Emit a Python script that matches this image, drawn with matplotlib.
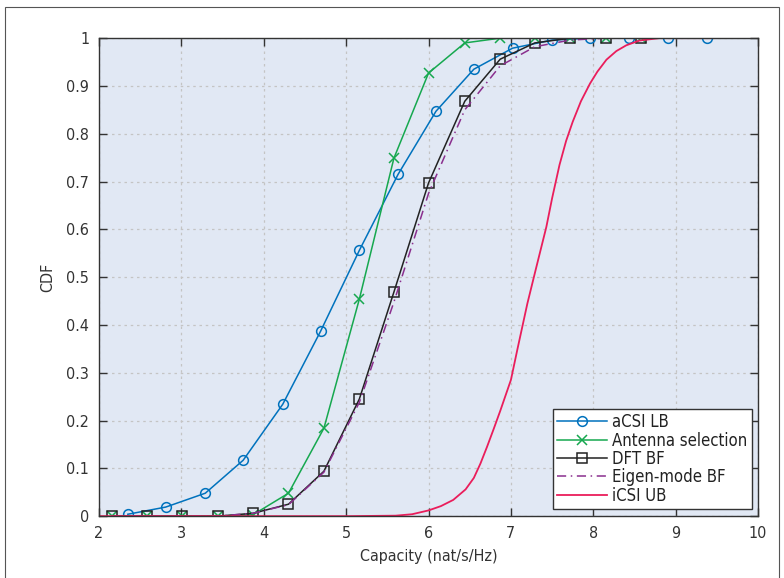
import matplotlib.pyplot as plt
from matplotlib.patches import Rectangle

plt.rcParams['font.family'] = ['DejaVu Sans']
plt.rcParams['font.stretch'] = 'condensed'

# aCSI LB (circles)
acsi_x = [2.35, 2.81, 3.29, 3.75, 4.23, 4.69, 5.16, 5.63, 6.09, 6.55, 7.02, 7.50, 7.96, 8.43, 8.91, 9.38]
acsi_y = [0.004, 0.019, 0.048, 0.117, 0.234, 0.387, 0.556, 0.715, 0.847, 0.935, 0.979, 0.996, 1.0, 1.0, 1.0, 1.0]

# Antenna selection / DFT BF / Eigen-mode BF share the same x grid
sel_x = [2.16, 2.58, 3.01, 3.44, 3.87, 4.30, 4.73, 5.16, 5.58, 6.00, 6.44, 6.87, 7.29, 7.72, 8.15, 8.58]
ant_y = [0.0, 0.0, 0.0, 0.0, 0.003, 0.048, 0.184, 0.454, 0.749, 0.927, 0.99, 1.0, 1.0, 1.0, 1.0, 1.0]
dft_y = [0.0, 0.0, 0.0, 0.0, 0.006, 0.025, 0.094, 0.245, 0.469, 0.697, 0.868, 0.956, 0.99, 1.0, 1.0, 1.0]
eig_y = [0.0, 0.0, 0.0, 0.0, 0.006, 0.024, 0.092, 0.238, 0.448, 0.675, 0.85, 0.942, 0.982, 0.996, 1.0, 1.0]

icsi_x = [2.0, 5.0, 5.6, 5.8, 6.0, 6.15, 6.3, 6.45, 6.55, 6.63, 6.71, 6.79, 6.87, 6.94, 7.0, 7.08,
          7.2, 7.3, 7.43, 7.5, 7.59, 7.67, 7.75, 7.85, 7.96, 8.05, 8.16, 8.28, 8.4, 8.56, 8.8, 9.45]
icsi_y = [0.0, 0.0, 0.001, 0.004, 0.012, 0.021, 0.034, 0.056, 0.08, 0.11, 0.145, 0.182, 0.22, 0.255,
          0.285, 0.35, 0.445, 0.515, 0.605, 0.665, 0.735, 0.785, 0.825, 0.868, 0.905, 0.93, 0.955,
          0.973, 0.985, 0.995, 1.0, 1.0]

fig = plt.figure(figsize=(7.84, 5.78), dpi=100)
ax = fig.add_axes([0.1263, 0.107, 0.8406, 0.827])

# outer frame round the figure
fig.patches.append(Rectangle((0.006, -0.01), 0.987, 0.998, transform=fig.transFigure,
                             fill=False, edgecolor='#555555', linewidth=0.8))

ax.set_facecolor('#e1e8f4')
ax.plot(acsi_x, acsi_y, color='#0072bd', lw=1.1, marker='o', ms=7, mfc='none', mew=1.1, label='aCSI LB')
ax.plot(sel_x, ant_y, color='#16a84f', lw=1.1, marker='x', ms=7, mew=1.1, label='Antenna selection')
ax.plot(sel_x, dft_y, color='#222222', lw=1.1, marker='s', ms=7, mfc='none', mew=1.1, label='DFT BF')
ax.plot(sel_x, eig_y, color='#8a2f8e', lw=1.1, ls=(0, (6, 3, 1, 3)), label='Eigen-mode BF')
ax.plot(icsi_x, icsi_y, color='#ea1d5b', lw=1.3, label='iCSI UB')

ax.set_xlim(2, 10)
ax.set_ylim(0, 1)
ax.set_xticks(range(2, 11))
ax.set_yticks([i / 10 for i in range(11)])
ax.set_yticklabels(['0', '0.1', '0.2', '0.3', '0.4', '0.5', '0.6', '0.7', '0.8', '0.9', '1'])
ax.grid(True, color='#c4c4c4', ls=(0, (2, 3)), lw=0.9)
ax.tick_params(direction='in', top=True, right=True, length=6, width=1.0,
               labelsize=11.5, colors='#333333', pad=7)
for s in ax.spines.values():
    s.set_color('#333333')
    s.set_linewidth(1.0)

ax.set_xlabel('Capacity (nat/s/Hz)', fontsize=11.5, color='#333333', labelpad=6)
ax.set_ylabel('CDF', fontsize=11.5, color='#333333', labelpad=8)

leg = ax.legend(loc='lower right', bbox_to_anchor=(0.998, 0.005), fontsize=12,
                frameon=True, fancybox=False, framealpha=1.0, handlelength=3.0, handletextpad=0.3,
                borderpad=0.25, labelspacing=0.02, borderaxespad=0.3)
leg.get_frame().set_edgecolor('#333333')
leg.get_frame().set_linewidth(1.0)
for t in leg.get_texts():
    t.set_color('#222222')

fig.savefig('out.png', dpi=100)
